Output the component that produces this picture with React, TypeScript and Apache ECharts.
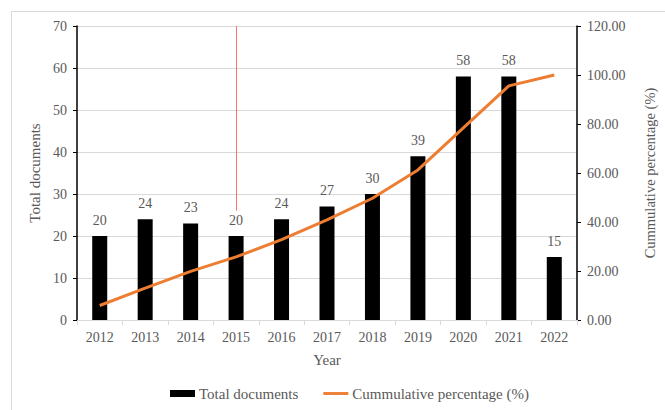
import React, { useEffect, useRef } from "react";
import * as echarts from "echarts";

const years = ["2012", "2013", "2014", "2015", "2016", "2017", "2018", "2019", "2020", "2021", "2022"];
const totalDocuments = [20, 24, 23, 20, 24, 27, 30, 39, 58, 58, 15];
const cumulativePercentage = [5.92, 13.02, 19.82, 25.74, 32.84, 40.83, 49.7, 61.24, 78.4, 95.56, 100];

const FONT = "Liberation Serif";
const GRAY = "#595959";

export default function App() {
  const ref = useRef<HTMLDivElement>(null);
  useEffect(() => {
    if (!ref.current) return;
    const chart = echarts.init(ref.current, null, { renderer: "svg" });
    chart.setOption({
      animation: false,
      backgroundColor: "transparent",
      textStyle: { fontFamily: FONT, color: GRAY },
      grid: { left: 77, right: 77, top: 26, bottom: 90 },
      legend: {
        top: 381,
        left: 165,
        itemGap: 25,
        itemWidth: 25,
        itemHeight: 7,
        textStyle: { fontFamily: FONT, fontSize: 15, color: GRAY, padding: [0, 0, 0, -1] },
        data: [
          { name: "Total documents", icon: "rect" },
          { name: "Cummulative percentage (%)", icon: "path://M0,0H26V3H0Z" },
        ],
      },
      xAxis: {
        type: "category",
        data: years,
        name: "Year",
        nameLocation: "middle",
        nameGap: 32,
        nameTextStyle: { fontFamily: FONT, fontSize: 15, color: GRAY },
        axisLine: { lineStyle: { color: "#d9d9d9" } },
        axisTick: { show: true, alignWithLabel: false, length: 5, lineStyle: { color: "#d9d9d9" } },
        axisLabel: { fontFamily: FONT, fontSize: 14, color: GRAY, margin: 10 },
      },
      yAxis: [
        {
          type: "value",
          min: 0,
          max: 70,
          interval: 10,
          name: "Total documents",
          nameLocation: "middle",
          nameGap: 33,
          nameTextStyle: { fontFamily: FONT, fontSize: 15, color: GRAY },
          axisLine: { show: true, lineStyle: { color: "#000000", width: 1.5 } },
          axisTick: { show: true, length: 4, lineStyle: { color: "#000000" } },
          axisLabel: { fontFamily: FONT, fontSize: 14, color: GRAY, margin: 10 },
          splitLine: { lineStyle: { color: "#d9d9d9" } },
        },
        {
          type: "value",
          min: 0,
          max: 120,
          interval: 20,
          name: "Cummulative percentage (%)",
          nameLocation: "middle",
          nameGap: 65,
          nameRotate: 90,
          nameTextStyle: { fontFamily: FONT, fontSize: 14.5, color: GRAY },
          axisLine: { show: true, lineStyle: { color: "#000000", width: 1.5 } },
          axisTick: { show: true, length: 4, lineStyle: { color: "#000000" } },
          axisLabel: {
            fontFamily: FONT,
            fontSize: 14,
            color: GRAY,
            margin: 10,
            formatter: (v: number) => v.toFixed(2),
          },
          splitLine: { show: false },
        },
      ],
      series: [
        {
          name: "Total documents",
          type: "bar",
          data: totalDocuments,
          barWidth: 15,
          itemStyle: { color: "#000000" },
          label: {
            show: true,
            position: "top",
            distance: 9,
            fontFamily: FONT,
            fontSize: 14,
            color: GRAY,
          },
          markLine: {
            silent: true,
            symbol: ["none", "none"],
            label: { show: false },
            lineStyle: { color: "#ff7070", type: "solid", width: 1, opacity: 1 },
            emphasis: { disabled: true },
            data: [
              [
                { coord: ["2015", 70], lineStyle: { color: "#ff7070", type: "solid", width: 1 } },
                { coord: ["2015", 26], lineStyle: { color: "#ff7070", type: "solid", width: 1 } },
              ],
            ],
          },
        },
        {
          name: "Cummulative percentage (%)",
          type: "line",
          yAxisIndex: 1,
          data: cumulativePercentage,
          showSymbol: false,
          symbol: "none",
          smooth: false,
          lineStyle: { color: "#ED7D31", width: 3 },
          itemStyle: { color: "#ED7D31" },
        },
      ],
    });
    return () => chart.dispose();
  }, []);

  return (
    <div style={{ position: "fixed", left: 0, top: 0, width: 665, height: 410, background: "#fff", overflow: "hidden" }}>
      <div
        style={{
          position: "absolute",
          left: 11,
          top: 11,
          width: 700,
          height: 450,
          border: "1px solid #d9d9d9",
          boxSizing: "border-box",
        }}
      />
      <div ref={ref} style={{ position: "absolute", left: 0, top: 0, width: 665, height: 410 }} />
    </div>
  );
}
